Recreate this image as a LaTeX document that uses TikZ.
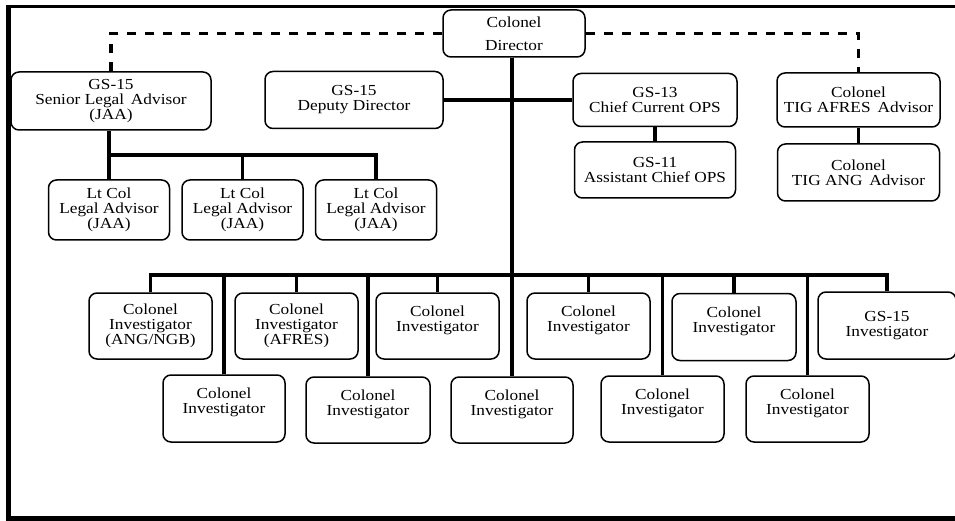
\documentclass[tikz,border=0pt]{standalone}
\usepackage{fontspec}
\setmainfont{Liberation Serif}[FakeStretch=1.13]
\begin{document}
\begin{tikzpicture}[x=1pt,y=-1pt,
  box/.style 2 args={draw, rounded corners=8pt, line width=1.5pt, align=center,
    inner sep=0pt, minimum width=#1, minimum height=#2,
    font=\fontsize{15.3}{15}\selectfont},
  link/.style={line width=3.2pt},
  dlink/.style={line width=3.2pt, dash pattern=on 9pt off 9pt}]
\useasboundingbox (0,0) rectangle (955,521);
% frame
\draw[line width=3pt] (8.5,6.5) -- (960,6.5);
\draw[line width=4.5pt] (8.5,5) -- (8.5,518.5);
\draw[line width=4.5pt] (6.25,518.5) -- (960,518.5);
% top row
\node[box={142pt}{47pt}] (dir) at (514,33.5) {Colonel\\[8pt]Director};
\node[box={200pt}{58pt}] (sla) at (111,101) {GS-15\\Senior Legal\ \,Advisor\\(JAA)};
\node[box={178pt}{57pt}] (dep) at (354,100) {GS-15\\Deputy Director};
\node[box={164pt}{53pt}] (chief) at (655,100) {GS-13\\Chief Current OPS};
\node[box={163pt}{54pt}] (tafres) at (858.5,100) {Colonel\\TIG AFRES\ \,Advisor};
\node[box={161pt}{56pt}] (asst) at (655,170) {GS-11\\Assistant Chief OPS};
\node[box={162pt}{57pt}] (tang) at (858.5,172.5) {Colonel\\TIG ANG\ \,Advisor};
% legal advisors
\node[box={121pt}{60pt}] (lt1) at (109,210) {Lt Col\\Legal Advisor\\(JAA)};
\node[box={121pt}{60pt}] (lt2) at (242.5,210) {Lt Col\\Legal Advisor\\(JAA)};
\node[box={121pt}{60pt}] (lt3) at (376,210) {Lt Col\\Legal Advisor\\(JAA)};
% investigators row 1
\node[box={123pt}{66pt}] (i1) at (150.5,326) {Colonel\\Investigator\\(ANG/NGB)};
\node[box={123pt}{66pt}] (i3) at (296.5,326) {Colonel\\Investigator\\(AFRES)};
\node[box={123pt}{66pt}] (i5) at (437.5,326) {Colonel\\Investigator\\\mbox{}};
\node[box={123pt}{66pt}] (i7) at (588.5,326) {Colonel\\Investigator\\\mbox{}};
\node[box={124pt}{67pt}] (i9) at (734,327) {Colonel\\Investigator\\\mbox{}};
\node[box={138pt}{67pt}] (gs) at (887,325.5) {GS-15\\Investigator};
% investigators row 2
\node[box={122pt}{67pt}] (i2) at (224,408.5) {Colonel\\Investigator\\\mbox{}};
\node[box={124pt}{66pt}] (i4) at (368,410) {Colonel\\Investigator\\\mbox{}};
\node[box={122pt}{66pt}] (i6) at (512,410) {Colonel\\Investigator\\\mbox{}};
\node[box={123pt}{66pt}] (i8) at (662.5,409) {Colonel\\Investigator\\\mbox{}};
\node[box={123pt}{66pt}] (i10) at (807.5,409) {Colonel\\Investigator\\\mbox{}};
% connectors
\coordinate (lb) at (0,155);
\coordinate (ib) at (0,275);
\draw[dlink] (dir.west) -| (sla.north);
\draw[dlink] (dir.east) -| (tafres.north);
\draw[link] (dir.south -| i6.north) -- (i6.north);
\draw[link] (dep.east) -- (chief.west);
\draw[link] (chief.south) -- (asst.north);
\draw[link] (tafres.south) -- (tang.north);
\draw[link] (sla.south -| lt1.north) |- (lb -| lt3.north) -- (lt3.north);
\draw[link] (lt1.north) -- (lb -| lt1.north);
\draw[link] (lt2.north) -- (lb -| lt2.north);
\draw[link] (i1.north) |- (ib -| gs.north) -- (gs.north);
\foreach \n in {i2,i3,i4,i5,i7,i8,i9,i10}
  \draw[link] (\n.north) -- (ib -| \n.north);
\end{tikzpicture}
\end{document}
